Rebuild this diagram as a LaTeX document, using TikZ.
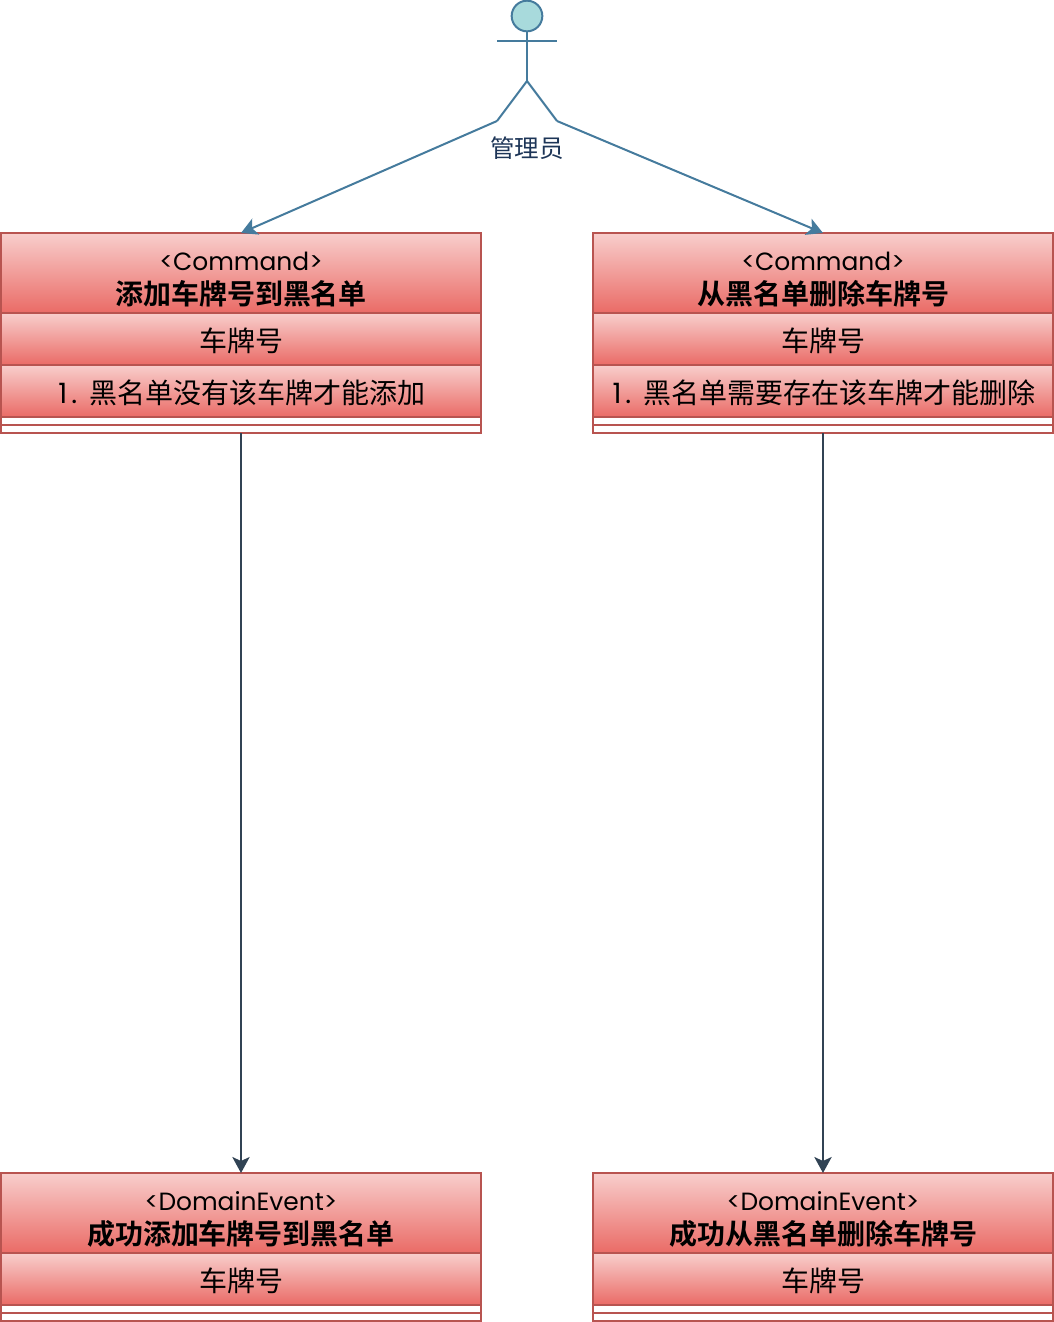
\documentclass[tikz,border=0pt]{standalone}
\usepackage{fontspec}
\setmainfont[BoldFont={Noto Sans CJK SC Bold}]{Noto Sans CJK SC}
\newfontfamily\latfont[Scale=0.89]{Poppins}
\usetikzlibrary{arrows.meta, positioning}
\definecolor{ink}{HTML}{1D3557}
\definecolor{actorline}{HTML}{457B9D}
\definecolor{actorfill}{HTML}{A8DADC}
\definecolor{flowline}{HTML}{314354}
\definecolor{redline}{HTML}{B85450}
\definecolor{redtop}{HTML}{F8CECC}
\definecolor{redbot}{HTML}{EA6B66}
\newcommand{\ruleno}{\makebox[24.75pt][l]{\hspace{1.5pt}\fontspec{Poppins}1\kern3pt.}}
\tikzset{
  part/.style={draw=redline, line width=1.5pt, top color=redtop, bottom color=redbot,
               align=center, inner sep=0pt, outer sep=0pt, font=\fontsize{21}{24}\selectfont, text=black},
  headL/.style={part, font=\fontsize{21}{25.5}\selectfont, minimum width=360pt, minimum height=60pt},
  rowL/.style={part, minimum width=360pt, minimum height=39pt, execute at begin node={\rule{0pt}{21pt}}},
  footL/.style={draw=redline, line width=1.5pt, fill=white, outer sep=0pt, inner sep=0pt, minimum width=360pt, minimum height=6pt},
  headR/.style={headL, minimum width=345pt},
  rowR/.style={rowL, minimum width=345pt},
  footR/.style={footL, minimum width=345pt},
  fl/.style={-{Stealth[length=12pt, width=13pt, inset=3pt]}, line width=1.5pt, draw=flowline},
  al/.style={-{Stealth[length=12pt, width=13pt, inset=3pt]}, line width=1.5pt, draw=actorline},
  stick/.style={line width=1.5pt, draw=actorline},
}
\begin{document}
\begin{tikzpicture}[x=0.75pt, y=-0.75pt, node distance=0pt]
    \useasboundingbox (0,0) rectangle (1054,1322);
    % actor
    \node[circle, draw=actorline, fill=actorfill, line width=1.5pt, minimum size=23pt, inner sep=0pt, outer sep=0pt] (head) at (527,16) {};
    \coordinate (hip) at (527,81);
    \coordinate (armL) at (497,41);
    \coordinate (armR) at (557,41);
    \coordinate (legL) at (497,121);
    \coordinate (legR) at (557,121);
    \draw[stick] (head.south) -- (hip);
    \draw[stick] (armL) -- (armR);
    \draw[stick] (legL) -- (hip) -- (legR);
    \node[font=\fontsize{18.4}{20}\selectfont, text=ink, inner sep=0pt] (actorname) at (527,148) {管理员};
    % commands
    \node[headL] (addcmd) at (241,273) {\mbox{}\\[-2pt]{\latfont <Command>}\\\textbf{添加车牌号到黑名单}};
    \node[rowL, below=of addcmd] (addplate) {车牌号};
    \node[rowL, below=of addplate] (addrule) {\ruleno 黑名单没有该车牌才能添加};
    \node[footL, below=of addrule] (addfa) {};
    \node[footL, below=of addfa] (addfb) {};
    \node[headR] (delcmd) at (823,273) {\mbox{}\\[-2pt]{\latfont <Command>}\\\textbf{从黑名单删除车牌号}};
    \node[rowR, below=of delcmd] (delplate) {车牌号};
    \node[rowR, below=of delplate] (delrule) {\ruleno 黑名单需要存在该车牌才能删除};
    \node[footR, below=of delrule] (delfa) {};
    \node[footR, below=of delfa] (delfb) {};
    % events
    \node[headL] (addevt) at (241,1213) {\mbox{}\\[-2pt]{\latfont <DomainEvent>}\\\textbf{成功添加车牌号到黑名单}};
    \node[rowL, below=of addevt] (addevtplate) {车牌号};
    \node[footL, below=of addevtplate] (addea) {};
    \node[footL, below=of addea] (addeb) {};
    \node[headR] (delevt) at (823,1213) {\mbox{}\\[-2pt]{\latfont <DomainEvent>}\\\textbf{成功从黑名单删除车牌号}};
    \node[rowR, below=of delevt] (delevtplate) {车牌号};
    \node[footR, below=of delevtplate] (delea) {};
    \node[footR, below=of delea] (deleb) {};
    \draw[al] (legL) -- (addcmd.north);
    \draw[al] (legR) -- (delcmd.north);
    \draw[fl] (addfb) -- (addevt);
    \draw[fl] (delfb) -- (delevt);
  \end{tikzpicture}
\end{document}
